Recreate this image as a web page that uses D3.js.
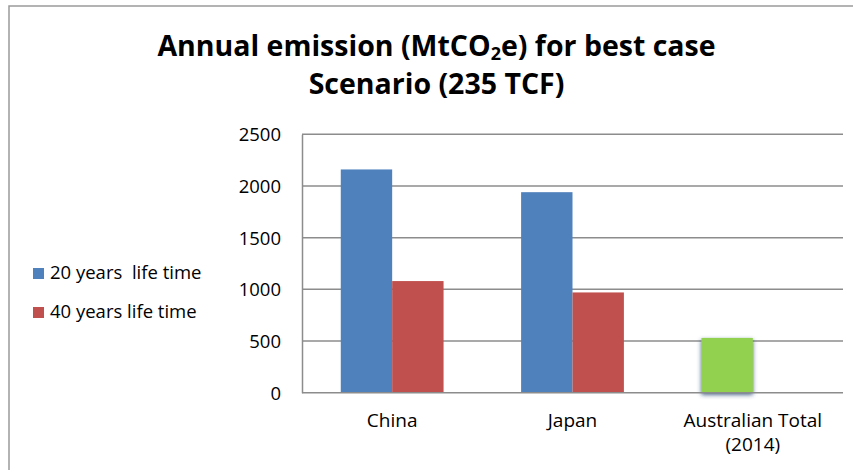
<!DOCTYPE html>
<html>
<head>
<meta charset="utf-8">
<script src="https://cdn.jsdelivr.net/npm/d3@7"></script>
<style>
  html, body { margin: 0; padding: 0; background: #fff; }
  svg { display: block; }
  text { font-family: "Open Sans", "Liberation Sans", sans-serif; fill: #000; }
</style>
</head>
<body>
<svg id="chart" width="853" height="470"></svg>
<script>
// Annual emission by country and power-plant life time
const categories = ["China", "Japan", "Australian Total\n(2014)"];
const seriesNames = ["20 years  life time", "40 years life time"];
const values20 = [2160, 1940, 530];
const values40 = [1080, 970, null];
const seriesColors = ["#4F81BD", "#C0504D"];
const highlightColor = "#92D050";      // Australian total is shown in green
const highlightIndex = 2;
const yTicks = [0, 500, 1000, 1500, 2000, 2500];

const svg = d3.select("#chart");
const W = 853, H = 470;
const plot = { left: 302, right: 843, top: 134.3, bottom: 392.7 };

// drop shadow used on the highlighted bar
const defs = svg.append("defs");
const f = defs.append("filter").attr("id", "glow")
  .attr("x", "-30%").attr("y", "-30%").attr("width", "160%").attr("height", "160%");
f.append("feDropShadow").attr("dx", 0).attr("dy", 2).attr("stdDeviation", 2)
  .attr("flood-color", "#1F3F70").attr("flood-opacity", 0.85);

// outer frame
svg.append("path")
  .attr("d", `M9,${H} L9,6 L${W},6`)
  .attr("fill", "none").attr("stroke", "#9a9a9a").attr("stroke-width", 1.5);

// title, two lines
const t1 = svg.append("text")
  .attr("text-anchor", "middle").attr("x", 436.5).attr("y", 56)
  .style("font-weight", "bold").style("font-size", "28.5px");
t1.append("tspan").text("Annual emission (MtCO");
t1.append("tspan").attr("dy", 4).style("font-size", "18px").text("2");
t1.append("tspan").attr("dy", -4).text("e) for best case");
svg.append("text")
  .attr("text-anchor", "middle").attr("x", 436.5).attr("y", 94)
  .style("font-weight", "bold").style("font-size", "28.5px")
  .text("Scenario (235 TCF)");

// scales
const x0 = d3.scaleBand().domain(d3.range(categories.length))
  .range([plot.left, plot.right]).paddingInner(0.43).paddingOuter(0.215);
const x1 = d3.scaleBand().domain([0, 1]).range([0, x0.bandwidth()]);
const y = d3.scaleLinear().domain([0, 2500]).range([plot.bottom, plot.top]);

// gridlines
svg.append("g").selectAll("line").data(yTicks.filter(d => d > 0)).join("line")
  .attr("x1", plot.left).attr("x2", plot.right)
  .attr("y1", d => y(d)).attr("y2", d => y(d))
  .attr("stroke", "#8c8c8c").attr("stroke-width", 1.5);

// bars
const rows = categories.map((c, i) => ({ i, vals: [values20[i], values40[i]] }));
const groups = svg.append("g").selectAll("g").data(rows).join("g")
  .attr("transform", d => `translate(${x0(d.i)},0)`);
groups.selectAll("rect")
  .data(d => d.vals.map((v, s) => ({ v, s, i: d.i })).filter(e => e.v != null))
  .join("rect")
  .attr("x", e => x1(e.s))
  .attr("width", x1.bandwidth())
  .attr("y", e => y(e.v))
  .attr("height", e => y(0) - y(e.v))
  .attr("fill", e => (e.i === highlightIndex ? highlightColor : seriesColors[e.s]))
  .attr("filter", e => (e.i === highlightIndex ? "url(#glow)" : null));

// axes
const yAxis = d3.axisLeft(y).tickValues(yTicks).tickFormat(d3.format("d"))
  .tickSize(0).tickPadding(21);
const gy = svg.append("g").attr("transform", `translate(${plot.left},0)`).call(yAxis);
gy.select(".domain").attr("stroke", "#8c8c8c").attr("stroke-width", 1.5);
gy.selectAll("text").style("font-size", "18.5px")
  .style("font-family", "'Open Sans', sans-serif").attr("dy", "0.35em");

svg.append("line")
  .attr("x1", plot.left).attr("x2", plot.right)
  .attr("y1", y(0)).attr("y2", y(0))
  .attr("stroke", "#8c8c8c").attr("stroke-width", 1.5);

// category labels
const cl = svg.append("g").selectAll("text").data(categories).join("text")
  .attr("text-anchor", "middle").style("font-size", "19px")
  .attr("transform", (d, i) => `translate(${x0(i) + x0.bandwidth() / 2},427)`);
cl.each(function (d) {
  const lines = d.split("\n");
  d3.select(this).selectAll("tspan").data(lines).join("tspan")
    .attr("x", 0).attr("dy", (l, k) => (k === 0 ? 0 : 24)).text(l => l);
});

// legend
const legend = svg.append("g");
seriesNames.forEach((name, s) => {
  const ly = 273 + s * 39;
  legend.append("rect").attr("x", 33).attr("y", ly - 5).attr("width", 11).attr("height", 11)
    .attr("fill", seriesColors[s]);
  legend.append("text").attr("x", 50).attr("y", ly + 6)
    .style("font-size", "18.5px").style("white-space", "pre").text(name);
});
</script>
</body>
</html>
